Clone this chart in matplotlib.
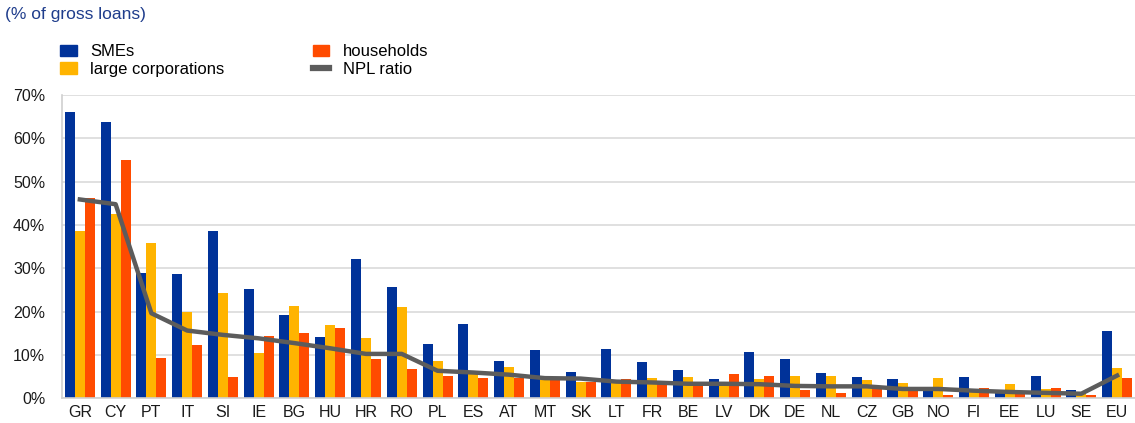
import numpy as np
import matplotlib.pyplot as plt
from matplotlib.patches import Patch
from matplotlib.lines import Line2D

plt.rcParams['font.family'] = ['Liberation Sans', 'DejaVu Sans']

countries = ['GR', 'CY', 'PT', 'IT', 'SI', 'IE', 'BG', 'HU', 'HR', 'RO',
             'PL', 'ES', 'AT', 'MT', 'SK', 'LT', 'FR', 'BE', 'LV', 'DK',
             'DE', 'NL', 'CZ', 'GB', 'NO', 'FI', 'EE', 'LU', 'SE', 'EU']
smes = [66.2, 63.8, 29.0, 28.7, 38.7, 25.3, 19.2, 14.1, 32.1, 25.6,
        12.5, 17.2, 8.6, 11.2, 6.1, 11.3, 8.4, 6.4, 4.4, 10.7,
        9.0, 5.9, 4.9, 4.5, 2.3, 4.8, 1.5, 5.1, 1.9, 15.5]
large_corp = [38.7, 42.5, 35.9, 19.8, 24.2, 10.5, 21.3, 16.9, 13.9, 21.0,
              8.5, 6.3, 7.2, 4.2, 3.8, 3.5, 4.7, 4.8, 3.1, 4.4,
              5.0, 5.2, 4.2, 3.5, 4.6, 1.5, 3.2, 2.1, 1.2, 7.0]
households = [46.2, 55.0, 9.2, 12.2, 4.8, 14.3, 15.1, 16.2, 9.0, 6.8,
              5.0, 4.6, 4.6, 4.2, 3.7, 4.3, 4.0, 3.7, 5.5, 5.1,
              1.8, 1.2, 2.7, 2.5, 0.6, 2.3, 1.5, 2.3, 0.8, 4.7]
npl_ratio = [45.9, 44.8, 19.6, 15.6, 14.6, 13.8, 12.7, 11.5, 10.2, 10.2,
             6.3, 5.9, 5.4, 4.6, 4.5, 3.8, 3.6, 3.3, 3.3, 3.2,
             2.8, 2.7, 2.7, 2.1, 2.1, 1.7, 1.4, 1.2, 1.0, 5.2]

c_sme = '#003299'
c_large = '#FFB400'
c_hh = '#FF4B00'
c_npl = '#5C5C5C'

fig = plt.figure(figsize=(11.35, 4.23), dpi=100)
ax = fig.add_axes([0.0546, 0.059, 0.9454, 0.716])

x = np.arange(len(countries))
w = 0.28
ax.bar(x - w, smes, w, color=c_sme, zorder=2)
ax.bar(x, large_corp, w, color=c_large, zorder=2)
ax.bar(x + w, households, w, color=c_hh, zorder=2)
ax.plot(x, npl_ratio, color=c_npl, lw=3.2, zorder=3, solid_joinstyle='round')

ax.set_xlim(-0.5, len(countries) - 0.5)
ax.set_ylim(0, 70)
ax.set_yticks(np.arange(0, 71, 10))
ax.set_yticklabels([f'{v}%' for v in range(0, 71, 10)])
ax.set_xticks(x)
ax.set_xticklabels(countries)
ax.tick_params(length=0, labelsize=11.5, colors='#1A1A1A')
ax.tick_params(axis='y', pad=12)
ax.tick_params(axis='x', pad=5)
ax.grid(axis='y', color='#DADADA', lw=1.2, zorder=0)
for s in ['top', 'right']:
    ax.spines[s].set_visible(False)
for s in ['left', 'bottom']:
    ax.spines[s].set_color('#D0D0D0')
    ax.spines[s].set_linewidth(1.2)

fig.text(0.004, 0.965, '(% of gross loans)', color='#1F3D8C', fontsize=12.5,
         va='center', ha='left')

handles = [Patch(color=c_sme), Patch(color=c_large),
           Patch(color=c_hh), Line2D([], [], color=c_npl, lw=4.5)]
labels = ['SMEs', 'large corporations', 'households', 'NPL ratio']
fig.legend(handles, labels, ncol=2, loc='upper left',
           bbox_to_anchor=(0.053, 0.895), frameon=False, fontsize=12,
           handlelength=1.0, handleheight=0.65, handletextpad=0.8,
           columnspacing=5.3, labelspacing=0.15, borderaxespad=0,
           borderpad=0)

fig.savefig('out.png', dpi=100)
